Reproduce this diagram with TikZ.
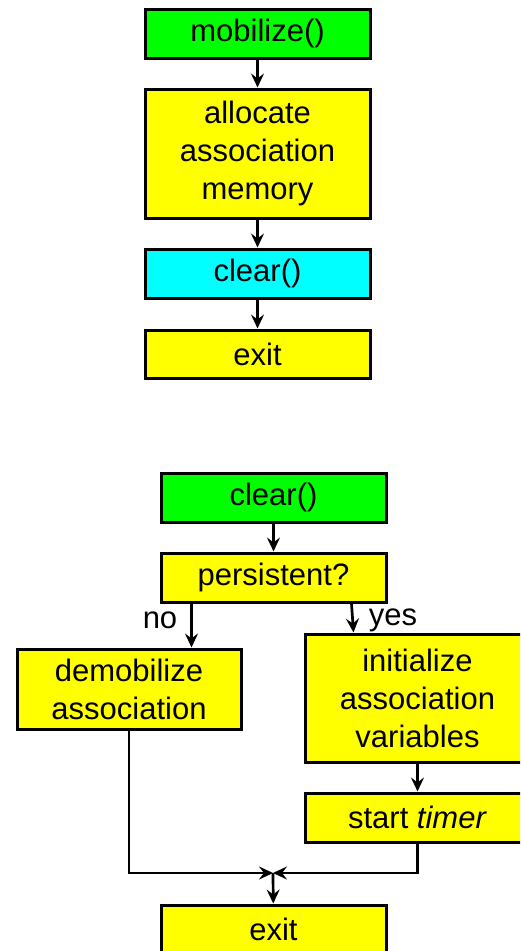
\documentclass[tikz,border=0pt]{standalone}
\usepackage{fontspec}
\setmainfont{Liberation Sans}
\usetikzlibrary{arrows.meta,calc}
\definecolor{boxgreen}{RGB}{0,255,0}
\definecolor{boxyellow}{RGB}{255,255,0}
\definecolor{boxcyan}{RGB}{0,255,255}
\tikzset{
  fbox/.style={draw=black, line width=3pt, inner sep=0pt, align=center,
    minimum width=225pt, font=\fontsize{31}{38}\selectfont},
  conn/.style={line width=2.7pt, -{Stealth[length=14pt,width=13pt,inset=5pt]}},
  plainline/.style={line width=2.7pt},
  lbl/.style={font=\fontsize{31}{38}\selectfont, inner sep=0pt}
}
\begin{document}
\begin{tikzpicture}[x=1pt,y=1pt]
\useasboundingbox (0,0) rectangle (520,-951);
\fill[white] (0,0) rectangle (520,-951);
\clip (0,0) rectangle (520,-951);
% top flow
\node[fbox, fill=boxgreen, minimum height=49pt] (mob) at (257.5,-33.5) {mobilize()};
\node[fbox, fill=boxyellow, minimum height=129pt] (alloc) at (257.5,-153.5) {allocate\\association\\memory};
\node[fbox, fill=boxcyan, minimum height=49pt] (clr1) at (257.5,-273.5) {clear()};
\node[fbox, fill=boxyellow, minimum height=48pt] (exit1) at (257.5,-354) {exit};
\draw[conn] (mob) -- (alloc);
\draw[conn] (alloc) -- (clr1);
\draw[conn] (clr1) -- (exit1);
% bottom flow
\node[fbox, fill=boxgreen, minimum height=49pt] (clr2) at (273.5,-497.5) {clear()};
\node[fbox, fill=boxyellow, minimum height=49pt] (pers) at (273.5,-577.5) {persistent?};
\node[fbox, fill=boxyellow, minimum width=224pt, minimum height=80pt] (demob) at (129,-689) {demobilize\\association};
\node[fbox, fill=boxyellow, minimum height=128pt] (init) at (417.5,-698) {initialize\\association\\variables};
\node[fbox, fill=boxyellow, minimum height=49pt] (timer) at (417.5,-817.5) {start \textit{timer}};
\node[fbox, fill=boxyellow, minimum height=49pt] (exit2) at (273.5,-929.5) {exit};
\coordinate (junc) at (273,-873);
\draw[conn] (clr2) -- (pers);
\draw[conn] ($(pers.south west)+(32,0)$) -- ($(demob.north west)+(176,0)$);
\draw[conn] ($(pers.south west)+(192,0)$) -- ($(init.north west)+(50,0)$);
\node[lbl] (no) at (160,-620) {no};
\node[lbl] (yes) at (393,-620) {yes};
\draw[conn] (init) -- (timer);
\draw[plainline] (demob.south) |- ($(junc)+(-2,0)$);
\draw[conn] ($(junc)+(-20,0)$) -- (junc);
\draw[plainline] (timer.south) |- ($(junc)+(2,0)$);
\draw[conn] ($(junc)+(20,0)$) -- (junc);
\draw[conn] (junc) -- (exit2);
\end{tikzpicture}
\end{document}
